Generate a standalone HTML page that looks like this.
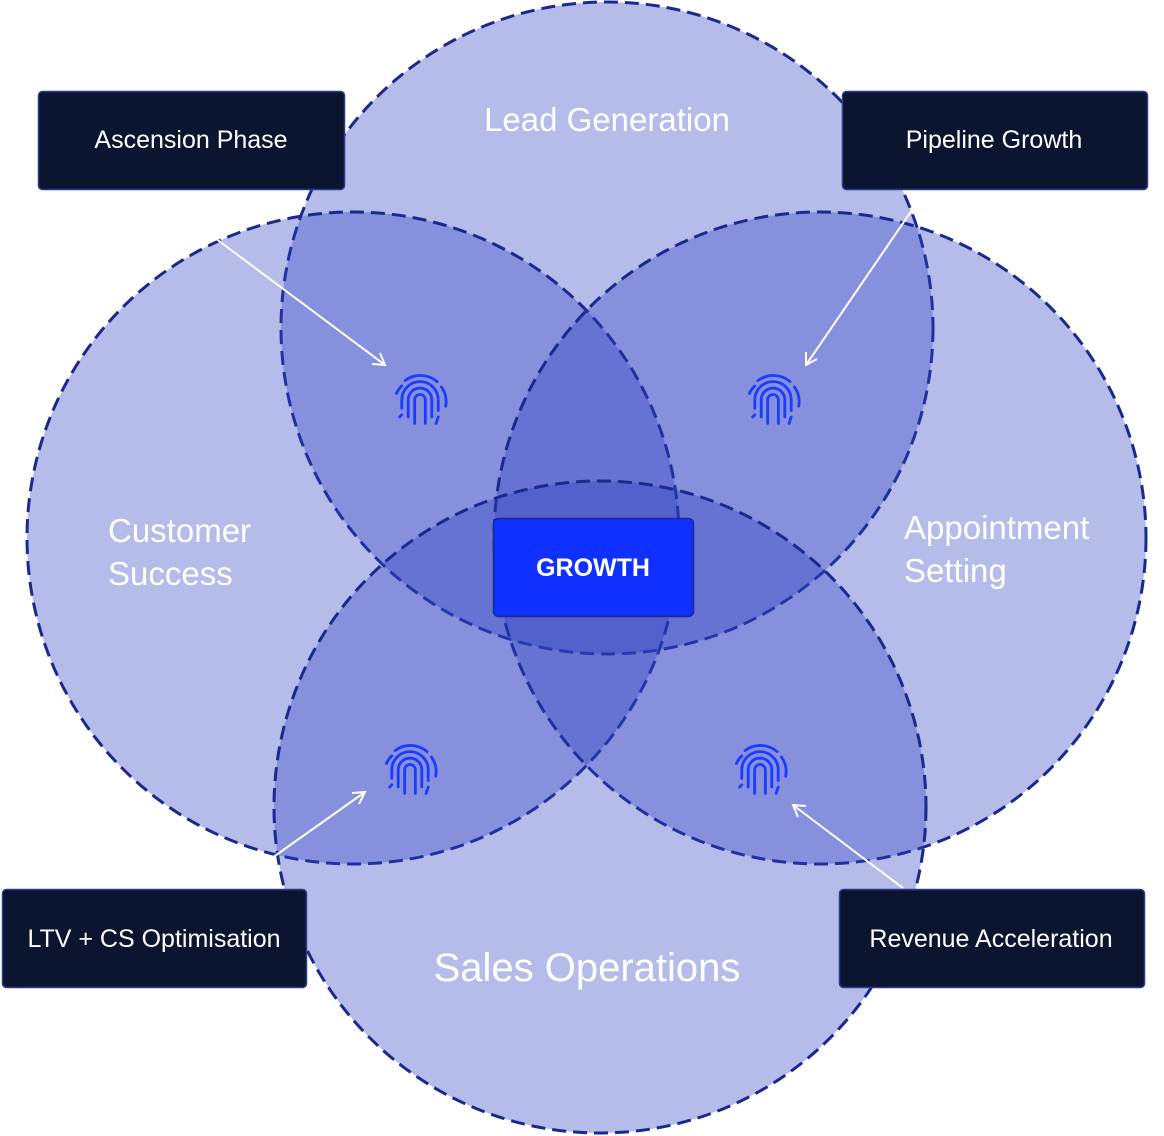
<!DOCTYPE html>
<html><head><meta charset="utf-8"><style>
html,body{margin:0;padding:0;background:#fff;}
svg{display:block;}
text{font-family:"Liberation Sans",sans-serif;fill:#fff;}
</style></head><body>
<svg width="1164" height="1136" viewBox="0 0 1164 1136">
<defs>
<symbol id="fp" viewBox="-28 -28 56 56" overflow="visible">
<g fill="none" stroke="#1a3cff" stroke-width="2.6" stroke-linecap="round">
<path d="M-14,-20 A24,24 0 0 1 16,-19"/>
<path d="M-22,-8 A23,23 0 0 1 -17,-15"/>
<path d="M20,-14 A24,24 0 0 1 24,4"/>
<path d="M-17,6 L-17,-2 A17,17 0 0 1 17,-2 L17,8"/>
<path d="M-11,14 L-11,-2 A11,11 0 0 1 11,-2 L11,14"/>
<path d="M-5,20 L-5,-2 A5,5 0 0 1 5,-2 L5,20"/>
<path d="M-19,14 L-17,12"/>
<path d="M17,14 L15,20"/>
</g>
</symbol>
</defs>
<g fill="rgba(46,63,195,0.35)" stroke="#1a2a8c" stroke-width="3" stroke-dasharray="14 7">
<circle cx="607" cy="328" r="326"/>
<circle cx="353" cy="538" r="326"/>
<circle cx="820" cy="538" r="326"/>
<circle cx="600" cy="807" r="326"/>
</g>
<text x="607" y="131" font-size="33" text-anchor="middle">Lead Generation</text>
<text x="108" y="542" font-size="33">Customer</text>
<text x="108" y="585" font-size="33">Success</text>
<text x="904" y="539" font-size="33">Appointment</text>
<text x="904" y="582" font-size="33">Setting</text>
<text x="587" y="981" font-size="40" text-anchor="middle">Sales Operations</text>
<use href="#fp" x="390" y="372" width="60" height="60"/>
<use href="#fp" x="743" y="372" width="60" height="60"/>
<use href="#fp" x="380" y="742" width="60" height="60"/>
<use href="#fp" x="730" y="742" width="60" height="60"/>
<g stroke="#fff" stroke-width="2" fill="none">
<line x1="215" y1="238" x2="385" y2="365"/><path d="M372,364 L385,365 L380,353"/>
<line x1="912" y1="210" x2="806" y2="365"/><path d="M806,352 L806,365 L817,359"/>
<line x1="272" y1="858" x2="365" y2="792"/><path d="M352,793 L365,792 L359,804"/>
<line x1="903" y1="888" x2="793" y2="805"/><path d="M798,817 L793,805 L806,806"/>
</g>
<g fill="#0c1530" stroke="#2a3a8c" stroke-width="1.5">
<rect x="38.5" y="91.5" width="306" height="98" rx="4"/>
<rect x="842.5" y="91.5" width="305" height="98" rx="4"/>
<rect x="2.5" y="889.5" width="304" height="98" rx="4"/>
<rect x="839.5" y="889.5" width="305" height="98" rx="4"/>
</g>
<rect x="493.5" y="518.5" width="200" height="98" rx="5" fill="#1030ff" stroke="#1a2a8c" stroke-width="1.5"/>
<g font-size="25" text-anchor="middle">
<text x="191" y="148">Ascension Phase</text>
<text x="994" y="148">Pipeline Growth</text>
<text x="154" y="947">LTV + CS Optimisation</text>
<text x="991" y="947">Revenue Acceleration</text>
<text x="593" y="576" font-weight="bold">GROWTH</text>
</g>
</svg>
</body></html>
